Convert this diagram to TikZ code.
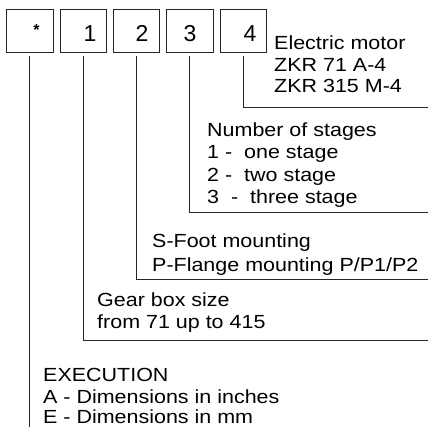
\documentclass[tikz,border=0pt]{standalone}
\usepackage{fontspec}
\setmainfont{Liberation Sans}
\newcommand{\wide}[1]{\scalebox{1.13}[1]{#1}}
\begin{document}
\begin{tikzpicture}[x=1pt,y=-1pt,
  cell/.style={draw=black!85, line width=1pt, minimum width=46pt, minimum height=43pt, inner sep=0pt},
  digit/.style={font=\fontsize{23}{24}\selectfont, inner sep=0pt, anchor=base},
  txt/.style={font=\fontsize{19}{22}\selectfont, inner sep=0pt, anchor=base west},
  leader/.style={draw=black!85, line width=1pt, shorten <=3pt}]
\useasboundingbox (0,0) rectangle (428,427);
% boxes
\node[cell, minimum width=47pt] (b1) at (29.5,31.5) {};
\node[cell] (b2) at (83,31.5) {};
\node[cell] (b3) at (136,31.5) {};
\node[cell, minimum width=47pt] (b4) at (189.5,31.5) {};
\node[cell] (b5) at (243,31.5) {};
% digits
\node[font=\bfseries\fontsize{16}{16}\selectfont, inner sep=0pt, anchor=base] (s1) at (36.5,36) {*};
\node[digit] (d2) at (90,42) {1};
\node[digit] (d3) at (142,42) {2};
\node[digit] (d4) at (190,42) {3};
\node[digit] (d5) at (250,42) {4};
% corner and end coordinates
\coordinate (c1) at (29.5,427);
\coordinate (c2) at (83,340);  \coordinate (r2) at (428,340);
\coordinate (c3) at (136,280); \coordinate (r3) at (428,280);
\coordinate (c4) at (189.5,213); \coordinate (r4) at (428,213);
\coordinate (c5) at (243,108); \coordinate (r5) at (428,108);
% leaders
\draw[leader] (b1.south) -- (c1);
\draw[leader] (b2.south) -- (c2) -- (r2);
\draw[leader] (b3.south) -- (c3) -- (r3);
\draw[leader] (b4.south) -- (c4) -- (r4);
\draw[leader] (b5.south) -- (c5) -- (r5);
% texts
\node[txt] (t5a) at (274,50) {\wide{Electric motor}};
\node[txt] (t5b) at (274,72) {\wide{ZKR 71 A-4}};
\node[txt] (t5c) at (274,93) {\wide{ZKR 315 M-4}};
\node[txt] (t4a) at (207,137) {\wide{Number of stages}};
\node[txt] (t4b) at (207,159) {\wide{1 -\ \ one stage}};
\node[txt] (t4c) at (207,182) {\wide{2 -\ \ two stage}};
\node[txt] (t4d) at (207,204) {\wide{3\ \ -\ \ three stage}};
\node[txt] (t3a) at (152,248) {\wide{S-Foot mounting}};
\node[txt] (t3b) at (152,272) {\wide{P-Flange mounting P/P1/P2}};
\node[txt] (t2a) at (97,307) {\wide{Gear box size}};
\node[txt] (t2b) at (97,328) {\wide{from 71 up to 415}};
\node[txt] (t1a) at (43,381) {\wide{EXECUTION}};
\node[txt] (t1b) at (43,403) {\wide{A - Dimensions in inches}};
\node[txt] (t1c) at (43,423) {\wide{E - Dimensions in mm}};
\end{tikzpicture}
\end{document}
